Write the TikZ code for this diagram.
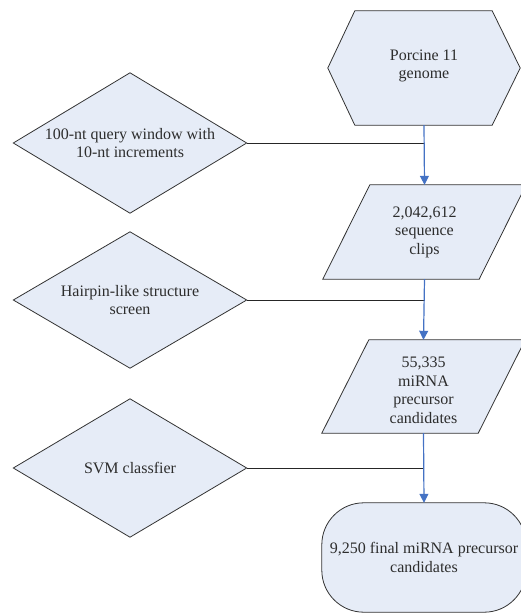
\documentclass[tikz,border=0pt]{standalone}
\usepackage{fontspec}
\setmainfont{Liberation Serif}
\usetikzlibrary{arrows.meta,calc}
\definecolor{boxfill}{RGB}{230,236,247}
\definecolor{arrowblue}{RGB}{68,114,196}
\definecolor{txtgray}{RGB}{45,45,45}
\tikzset{
  holder/.style={draw=none,inner sep=0pt,align=center,text=txtgray,
    font=\fontsize{16}{18.5}\selectfont},
  shapeline/.style={draw=black!80,line width=0.8pt,fill=boxfill,line join=miter},
  joinline/.style={draw=black!85,line width=0.8pt},
  flowarrow/.style={draw=arrowblue,line width=1.2pt,-{Triangle[width=9pt,length=9pt]}}
}
\begin{document}
\begin{tikzpicture}[x=1pt,y=-1pt]
\useasboundingbox (0,0) rectangle (521,616);
% nodes (shape bounding boxes)
\node[holder,minimum width=192pt,minimum height=114pt] (hex) at (424,68) {};
\node[holder,minimum width=203pt,minimum height=94pt] (clips) at (424.5,232) {};
\node[holder,minimum width=203pt,minimum height=93pt] (cand) at (423.5,386.5) {};
\node[holder,minimum width=204pt,minimum height=109pt] (fin) at (424,557.5) {};
\node[holder,minimum width=233pt,minimum height=140pt] (win) at (130,143) {};
\node[holder,minimum width=233pt,minimum height=136pt] (hair) at (130,300) {};
\node[holder,minimum width=233pt,minimum height=138pt] (svm) at (130,468) {};
% shapes
\path[shapeline] (hex.west) -- ([xshift=27pt]hex.north west) -- ([xshift=-28pt]hex.north east)
  -- (hex.east) -- ([xshift=-28pt]hex.south east) -- ([xshift=27pt]hex.south west) -- cycle;
\path[shapeline] (clips.south west) -- ([xshift=-47pt]clips.south east) -- (clips.north east)
  -- ([xshift=47pt]clips.north west) -- cycle;
\path[shapeline] (cand.south west) -- ([xshift=-47pt]cand.south east) -- (cand.north east)
  -- ([xshift=47pt]cand.north west) -- cycle;
\path[shapeline,rounded corners=42pt] (fin.south west) rectangle (fin.north east);
\foreach \d in {win,hair,svm}{
  \path[shapeline] (\d.west) -- (\d.north) -- (\d.east) -- (\d.south) -- cycle;
}
% texts
\node[holder] at ([yshift=2pt]hex.center) {Porcine 11\\genome};
\node[holder] at (clips.center) {2,042,612\\sequence\\clips};
\node[holder] at ([yshift=-4pt]cand.center) {55,335\\miRNA\\precursor\\candidates};
\node[holder] at (fin.center) {9,250 final miRNA precursor\\candidates};
\node[holder] at (win.center) {100-nt query window with\\10-nt increments};
\node[holder] at (hair.center) {Hairpin-like structure\\screen};
\node[holder] at (svm.center) {SVM classfier};
% connectors
\draw[joinline] (win.east) -- (win.east -| hex.south);
\draw[joinline] (hair.east) -- (hair.east -| clips.south);
\draw[joinline] (svm.east) -- (svm.east -| cand.south);
\draw[flowarrow] (hex.south) -- (clips.north);
\draw[flowarrow] (clips.south) -- (cand.north);
\draw[flowarrow] (cand.south) -- (fin.north);
\end{tikzpicture}
\end{document}
